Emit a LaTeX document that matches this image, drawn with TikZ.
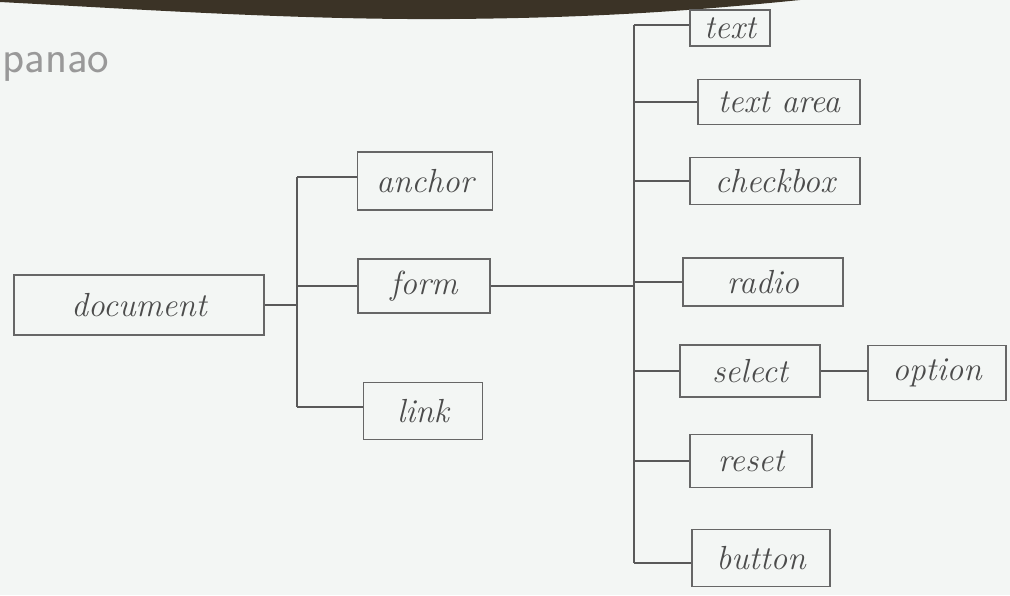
\documentclass[tikz,border=0pt]{standalone}
\usepackage{fontspec}
\newlength\pxu
\setlength\pxu{0.02cm}
\definecolor{paper}{HTML}{F3F6F4}
\definecolor{band}{HTML}{3B3326}
\begin{document}
\begin{tikzpicture}[x=0.02cm,y=-0.02cm,
  box/.style={draw=black!60, line width=0.6pt, inner sep=0pt, font=\itshape\fontsize{19}{21}\selectfont, text=black!70},
  wire/.style={draw=black!65, line width=0.7pt}]
\useasboundingbox (0,0) rectangle (1010,595);
\fill[paper] (0,0) rectangle (1010,595);
\fill[band] (0,0) -- (0,2) .. controls (150,10) and (300,20) .. (450,19) .. controls (600,18) and (700,10) .. (800,0) -- cycle;
\node[text=black!40, font=\sffamily\fontsize{26}{28}\selectfont, anchor=west, inner sep=0pt] (wm) at (2,67) {panao};
% nodes
\node[box, minimum width=250\pxu, minimum height=60\pxu] (doc) at (139,305) {document};
\node[box, minimum width=135\pxu, minimum height=58\pxu] (anc) at (425,181) {anchor};
\node[box, minimum width=132\pxu, minimum height=54\pxu] (form) at (424,286) {form};
\node[box, minimum width=119\pxu, minimum height=57\pxu] (link) at (423,411) {link};
\node[box, minimum width=80\pxu, minimum height=36\pxu] (text) at (730,28) {text};
\node[box, minimum width=162\pxu, minimum height=45\pxu] (tarea) at (779,102) {text area};
\node[box, minimum width=170\pxu, minimum height=47\pxu] (chk) at (775,181) {checkbox};
\node[box, minimum width=160\pxu, minimum height=48\pxu] (radio) at (763,282) {radio};
\node[box, minimum width=140\pxu, minimum height=52\pxu] (sel) at (750,371) {select};
\node[box, minimum width=138\pxu, minimum height=55\pxu] (opt) at (937,373) {option};
\node[box, minimum width=122\pxu, minimum height=53\pxu] (reset) at (751,461) {reset};
\node[box, minimum width=138\pxu, minimum height=57\pxu] (btn) at (761,558) {button};
% trunk coordinates
\coordinate (t1) at (297,177);
\coordinate (t2) at (297,407);
\coordinate (u1) at (634,25);
\coordinate (u2) at (634,563);
% connectors
\draw[wire] (doc.east) -- (doc.east -| t1);
\draw[wire] (t1) -- (t2);
\draw[wire] (t1) -- (t1 -| anc.west);
\draw[wire] (form.west -| t1) -- (form.west);
\draw[wire] (t2) -- (t2 -| link.west);
\draw[wire] (u1) -- (u2);
\draw[wire] (form.east) -- (form.east -| u1);
\draw[wire] (u1) -- (u1 -| text.west);
\draw[wire] (tarea.west -| u1) -- (tarea.west);
\draw[wire] (chk.west -| u1) -- (chk.west);
\draw[wire] (radio.west -| u1) -- (radio.west);
\draw[wire] (sel.west -| u1) -- (sel.west);
\draw[wire] (reset.west -| u1) -- (reset.west);
\draw[wire] (u2) -- (u2 -| btn.west);
\draw[wire] (sel.east) -- (sel.east -| opt.west);
\end{tikzpicture}
\end{document}
